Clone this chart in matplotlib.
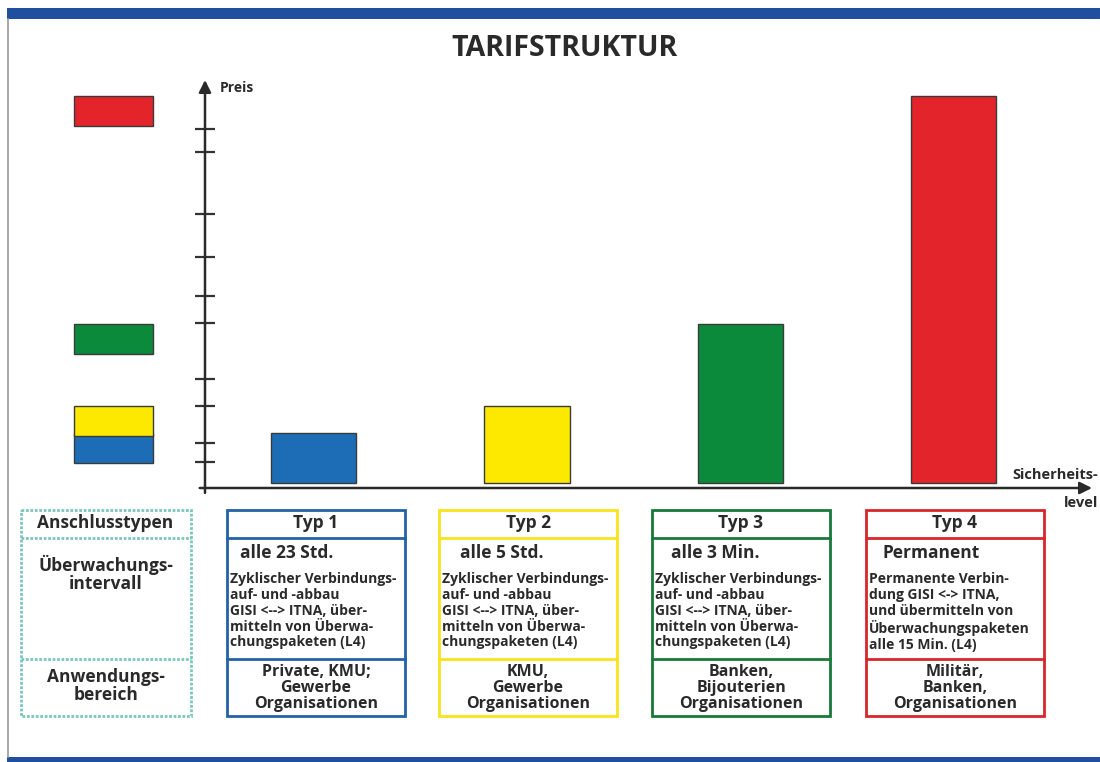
import numpy as np
import matplotlib
matplotlib.use("Agg")
import matplotlib.pyplot as plt
from matplotlib.patches import Rectangle

plt.rcParams['font.family'] = ['Open Sans', 'DejaVu Sans']

# --- data -----------------------------------------------------------------
types = ["Typ 1", "Typ 2", "Typ 3", "Typ 4"]
prices = [55, 82, 164, 392]          # bar heights (relative price)
bar_colors = ["#1c6db5", "#fde900", "#0b8a3c", "#e3242b"]
box_colors = ["#2362a6", "#f8e31c", "#19793b", "#d8262c"]
price_ticks = [26, 45, 82, 109, 165, 192, 231, 274, 336, 359]

row_labels = ["Anschlusstypen", "Überwachungs-\nintervall", "Anwendungs-\nbereich"]
intervals = ["alle 23 Std.", "alle 5 Std.", "alle 3 Min.", "Permanent"]
descriptions = [
    "Zyklischer Verbindungs-\nauf- und -abbau\nGISI <--> ITNA, über-\nmitteln von Überwa-\nchungspaketen (L4)",
    "Zyklischer Verbindungs-\nauf- und -abbau\nGISI <--> ITNA, über-\nmitteln von Überwa-\nchungspaketen (L4)",
    "Zyklischer Verbindungs-\nauf- und -abbau\nGISI <--> ITNA, über-\nmitteln von Überwa-\nchungspaketen (L4)",
    "Permanente Verbin-\ndung GISI <-> ITNA,\nund übermitteln von\nÜberwachungspaketen\nalle 15 Min. (L4)",
]
usage = [
    "Private, KMU;\nGewerbe\nOrganisationen",
    "KMU,\nGewerbe\nOrganisationen",
    "Banken,\nBijouterien\nOrganisationen",
    "Militär,\nBanken,\nOrganisationen",
]

txt = "#2a2a2a"
W, H = 1100, 762
fig = plt.figure(figsize=(W / 100, H / 100), dpi=100)

# page layer in pixel coordinates (frame + table)
page = fig.add_axes([0, 0, 1, 1])
page.set_xlim(0, W)
page.set_ylim(H, 0)
page.axis('off')
page.add_patch(Rectangle((7, 8), W - 7, 11, color="#1f4f9e", lw=0))
page.add_patch(Rectangle((7, 757), W - 7, 6, color="#1f4f9e", lw=0))
page.plot([8, 8], [19, 757], color="#9a9a9a", lw=1.2)
page.text(565, 48, "TARIFSTRUKTUR", ha='center', va='center', fontsize=20.5,
          fontweight='bold', color=txt)

# --- chart ----------------------------------------------------------------
x0, x1, yb, yt = 205, 1092, 488, 80
ax = fig.add_axes([x0 / W, (H - yb) / H, (x1 - x0) / W, (yb - yt) / H])
ax.patch.set_alpha(0)
unit = 213.33
ax.set_xlim(0, (x1 - x0) / unit)
ax.set_ylim(0, yb - yt)
for s in ax.spines.values():
    s.set_visible(False)

xpos = np.arange(len(types)) + 0.51
gap = 5
ax.bar(xpos, np.array(prices) - gap, bottom=gap, width=0.4, color=bar_colors,
       edgecolor="#3a3a3a", linewidth=1.0)

# colour key on the left, placed at the price level of each type
key_h = 30
for p, c in zip(prices, bar_colors):
    ax.add_patch(Rectangle((-0.614, p - key_h), 0.37, key_h, facecolor=c,
                           edgecolor="#3a3a3a", lw=1.0, clip_on=False))

ax.set_yticks(price_ticks)
ax.set_yticklabels([])
ax.set_xticks([])
ax.tick_params(axis='y', direction='inout', length=15, width=1.6, color="#333333")

arrow = dict(arrowstyle='-|>', lw=1.8, color="#2a2a2a", mutation_scale=18,
             shrinkA=0, shrinkB=0)
ax.annotate('', xy=(0, 1), xytext=(0, -0.012), xycoords='axes fraction',
            arrowprops=arrow)
ax.annotate('', xy=(1, 0), xytext=(-0.006, 0), xycoords='axes fraction',
            arrowprops=arrow)
ax.text(0.017, 0.981, "Preis", transform=ax.transAxes, ha='left', va='center',
        fontsize=10, fontweight='bold', color=txt)
page.text(1098, 475, "Sicherheits-", ha='right', va='center', fontsize=10.5,
          fontweight='bold', color=txt)
page.text(1098, 503, "level", ha='right', va='center', fontsize=10.5,
          fontweight='bold', color=txt)

# --- table ----------------------------------------------------------------
top, r1, r2, bot = 510, 538, 659, 716
page.add_patch(Rectangle((21, top), 170, bot - top, fill=False,
                         edgecolor="#7cc5bd", lw=2, ls=(0, (1, 0.6))))
for y in (r1, r2):
    page.plot([21, 191], [y, y], color="#7cc5bd", lw=2, ls=(0, (1, 0.6)))
page.text(105, 523, row_labels[0], ha='center', va='center', fontsize=12.5,
          fontweight='bold', color=txt)
page.text(106, 574, row_labels[1], ha='center', va='center', fontsize=12.5,
          fontweight='bold', color=txt, linespacing=1.05)
page.text(106, 686, row_labels[2], ha='center', va='center', fontsize=12.5,
          fontweight='bold', color=txt, linespacing=1.05)

box_left = [227, 439, 652, 866]
int_off = [13, 21, 19, 16]
bw = 178
for i in range(len(types)):
    L = box_left[i]
    page.add_patch(Rectangle((L, top), bw, bot - top, fill=False,
                             edgecolor=box_colors[i], lw=2))
    for y in (r1, r2):
        page.plot([L, L + bw], [y, y], color=box_colors[i], lw=2)
    page.text(L + bw / 2, 523, types[i], ha='center', va='center', fontsize=12.5,
              fontweight='bold', color=txt)
    page.text(L + int_off[i], 553, intervals[i], ha='left', va='center',
              fontsize=12.5, fontweight='bold', color=txt)
    page.text(L + 3, 572, descriptions[i], ha='left', va='top', fontsize=10,
              fontweight='bold', color=txt, linespacing=1.17)
    page.text(L + bw / 2, 688, usage[i], ha='center', va='center', fontsize=11.5,
              fontweight='bold', color=txt, linespacing=1.0)

fig.savefig("out.png", dpi=100)
